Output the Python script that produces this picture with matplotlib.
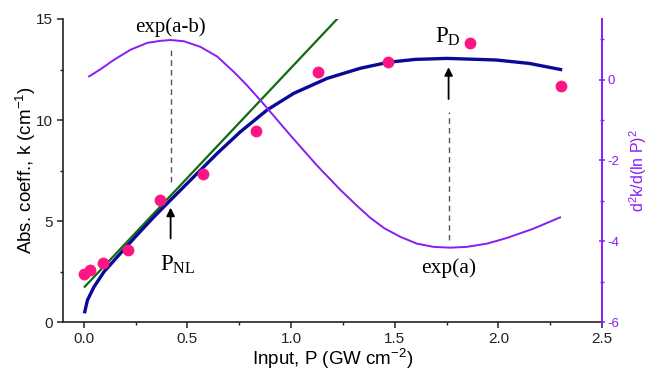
import matplotlib
matplotlib.use("Agg")
import matplotlib.pyplot as plt
from matplotlib.ticker import MultipleLocator

plt.rcParams['font.family'] = ['Liberation Sans', 'DejaVu Sans']
plt.rcParams['axes.unicode_minus'] = False

# measured data points
pts_x = [0.00, 0.03, 0.095, 0.215, 0.37, 0.577, 0.833, 1.13, 1.47, 1.864, 2.30]
pts_k = [2.36, 2.57, 2.94, 3.56, 6.04, 7.33, 9.46, 12.39, 12.89, 13.83, 11.68]

# fitted curve k(P)
fit_x = [0.005, 0.018, 0.05, 0.098, 0.162, 0.242, 0.339, 0.419, 0.531, 0.644,
         0.756, 0.885, 1.013, 1.174, 1.334, 1.47, 1.60, 1.752, 1.99, 2.15, 2.30]
fit_k = [0.51, 1.09, 1.75, 2.49, 3.23, 4.14, 5.21, 6.04, 7.19, 8.35,
         9.42, 10.50, 11.32, 12.06, 12.56, 12.86, 13.00, 13.05, 12.97, 12.80, 12.50]

# linear (low-intensity) fit
lin_x = [0.005, 1.25]
lin_k = [1.75, 15.3]

# second derivative d2k/d(lnP)^2
d2_x = [0.026, 0.082, 0.146, 0.226, 0.307, 0.371, 0.419, 0.483, 0.563, 0.644,
        0.724, 0.789, 0.857, 0.997, 1.126, 1.238, 1.326, 1.382, 1.45, 1.527,
        1.607, 1.687, 1.768, 1.848, 1.945, 2.041, 2.169, 2.298]
d2_y = [0.08, 0.26, 0.49, 0.74, 0.91, 0.96, 0.98, 0.95, 0.81, 0.57,
        0.19, -0.15, -0.54, -1.38, -2.13, -2.73, -3.16, -3.42, -3.68, -3.89,
        -4.06, -4.14, -4.16, -4.14, -4.06, -3.92, -3.69, -3.41]

P_NL = 0.419
P_D = 1.76

fig = plt.figure(figsize=(6.51, 3.71), dpi=100)
ax = fig.add_axes([0.0968, 0.132, 0.8279, 0.8168])
ax2 = ax.twinx()

purple = '#8A1CF5'
ax.plot(lin_x, lin_k, color='#0F6B0F', lw=1.6, zorder=3)
ax.plot(fit_x, fit_k, color='#0A0A96', lw=2.4, zorder=4)
ax.plot(pts_x, pts_k, 'o', color='#FF1484', ms=8.5, mec='none', zorder=5)
ax2.plot(d2_x, d2_y, color=purple, lw=1.4)

ax.set_xlim(-0.1, 2.5)
ax.set_ylim(0, 15)
ax2.set_ylim(-6, 1.5)

ax.xaxis.set_major_locator(MultipleLocator(0.5))
ax.xaxis.set_minor_locator(MultipleLocator(0.25))
ax.yaxis.set_major_locator(MultipleLocator(5))
ax.yaxis.set_minor_locator(MultipleLocator(2.5))
ax2.yaxis.set_major_locator(MultipleLocator(2))
ax2.yaxis.set_minor_locator(MultipleLocator(1))

for a in (ax, ax2):
    a.spines['top'].set_visible(False)
ax.spines['right'].set_visible(False)
ax2.spines['left'].set_visible(False)
ax2.spines['bottom'].set_visible(False)
ax2.spines['right'].set_color(purple)
ax2.spines['right'].set_linewidth(1.4)
ax.spines['left'].set_linewidth(1.2)
ax.spines['bottom'].set_linewidth(1.2)
ax.spines['left'].set_color('#222222')
ax.spines['bottom'].set_color('#222222')

ax.tick_params(which='major', direction='out', length=4, width=1.1, labelsize=11,
               colors='#222222', pad=3)
ax.tick_params(which='minor', direction='out', length=2.5, width=1.0, colors='#222222')
ax2.tick_params(which='major', direction='inout', length=5, width=1.1, labelsize=9.5,
                colors=purple, pad=1.5)
ax2.tick_params(which='minor', direction='inout', length=3.5, width=1.0, colors=purple)

ax.set_xlabel(r'Input, P (GW cm$^{\mathregular{-2}}$)', fontsize=13.5, labelpad=0)
ax.set_ylabel(r'Abs. coeff., k (cm$^{\mathregular{-1}}$)', fontsize=13.5, labelpad=-1)
ax2.set_ylabel(r'd$^{\mathregular{2}}$k/d(ln P)$^{\mathregular{2}}$', fontsize=11.5,
               color=purple, labelpad=6)

serif = 'Liberation Serif'
# P_NL annotations
ax.plot([P_NL, P_NL], [6.93, 13.5], ls=(0, (4, 3)), color='#555555', lw=1.0)
ax.annotate('', xy=(P_NL, 5.8), xytext=(P_NL, 4.0),
            arrowprops=dict(arrowstyle='-|>', color='black', lw=1.3, mutation_scale=12))
ax.text(P_NL, 14.6, 'exp(a-b)', family=serif, fontsize=15, ha='center', va='center')
ax.text(0.455, 2.85, r'$\mathregular{P_{NL}}$', family=serif, fontsize=16.5,
        ha='center', va='center')

# P_D annotations
ax.plot([P_D, P_D], [4.06, 10.4], ls=(0, (4, 3)), color='#555555', lw=1.0)
ax.annotate('', xy=(P_D, 12.75), xytext=(P_D, 10.9),
            arrowprops=dict(arrowstyle='-|>', color='black', lw=1.3, mutation_scale=12))
ax.text(P_D, 2.65, 'exp(a)', family=serif, fontsize=15.5, ha='center', va='center')
ax.text(1.755, 14.1, r'$\mathregular{P_{D}}$', family=serif, fontsize=16.5,
        ha='center', va='center')

fig.savefig('out.png', dpi=100)
